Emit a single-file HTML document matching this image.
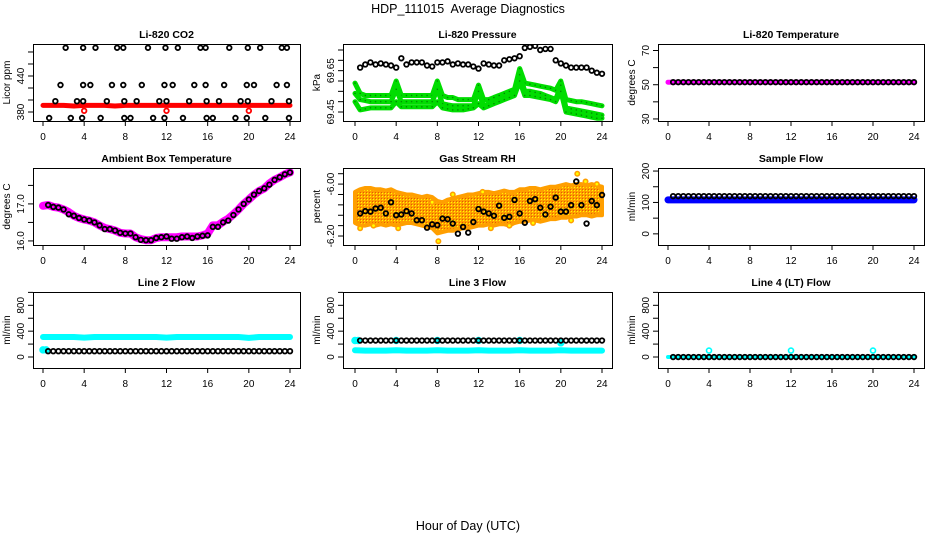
<!DOCTYPE html>
<html><head><meta charset="utf-8"><title>HDP_111015 Average Diagnostics</title>
<style>
html,body{margin:0;padding:0;background:#fff;}
svg{display:block;font-family:"Liberation Sans",Arial,sans-serif;}
</style></head>
<body>
<svg id="chart" width="936" height="540" viewBox="0 0 936 540" xmlns="http://www.w3.org/2000/svg">
<rect width="936" height="540" fill="#fff"/>
<defs>
<pattern id="rhpat" width="3" height="3" patternUnits="userSpaceOnUse"><rect width="3" height="3" fill="#ff9f00"/><rect x="1" y="1" width="1" height="1" fill="#ffff00"/><rect x="0" y="0" width="1" height="1" fill="#e06000"/></pattern>
</defs>
<text x="468" y="13" font-size="12.5" text-anchor="middle" style="white-space:pre">HDP_111015  Average Diagnostics</text>
<text x="468" y="530" font-size="12.5" text-anchor="middle">Hour of Day (UTC)</text>
</svg>
<script>
// ---------- data ----------
const xTicks = [0,4,8,12,16,20,24];
const hoursHalf = [0,0.5,1,1.5,2,2.5,3,3.5,4,4.5,5,5.5,6,6.5,7,7.5,8,8.5,9,9.5,10,10.5,11,11.5,12,12.5,13,13.5,14,14.5,15,15.5,16,16.5,17,17.5,18,18.5,19,19.5,20,20.5,21,21.5,22,22.5,23,23.5,24];
const hoursBlack = [0.5,1,1.5,2,2.5,3,3.5,4,4.5,5,5.5,6,6.5,7,7.5,8,8.5,9,9.5,10,10.5,11,11.5,12,12.5,13,13.5,14,14.5,15,15.5,16,16.5,17,17.5,18,18.5,19,19.5,20,20.5,21,21.5,22,22.5,23,23.5,24];
const hoursHourly = [0,1,2,3,4,5,6,7,8,9,10,11,12,13,14,15,16,17,18,19,20,21,22,23,24];

// CO2
const co2Red = [391,391,391,390,391,391,391,390,391,391,391,391,391,391,391,391,391,391,391,391,391,391,391,391,391];
const co2RedOutHours = [4,12,20];
const co2RedOutVals = [382,382,382];
const co2Hours = [2.2,3.9,5.1,7.2,7.8,10.2,11.9,13.1,15.3,15.8,18.1,19.9,21.1,23.2,23.7,
  1.7,3.9,4.6,6.7,7.8,9.6,11.8,12.6,14.7,15.8,17.6,19.8,20.5,22.7,23.7,
  1.2,3.3,3.9,6.2,7.9,9.1,11.3,12.0,14.2,15.9,17.1,19.2,19.9,22.2,23.9,
  0.6,2.7,3.8,5.6,7.9,8.5,10.7,11.8,13.6,15.9,16.5,18.7,19.8,21.6,23.9];
const co2Vals = [487,487,487,487,487,487,487,487,487,487,487,487,487,487,487,
  425,425,425,425,425,425,425,425,425,425,425,425,425,425,425,
  398,398,398,398,398,398,398,398,398,398,398,398,398,398,398,
  370,370,370,370,370,370,370,370,370,370,370,370,370,370,370];

// Pressure
const presBlack = [69.665,69.68,69.69,69.68,69.685,69.68,69.675,69.665,69.71,69.68,69.69,69.69,69.69,69.675,69.67,69.69,69.69,69.695,69.68,69.685,69.68,69.68,69.67,69.66,69.685,69.68,69.675,69.675,69.70,69.705,69.71,69.72,69.76,69.765,69.77,69.75,69.755,69.755,69.70,69.685,69.675,69.665,69.665,69.665,69.665,69.65,69.64,69.635];
const presGreen1 = [69.59,69.54,69.53,69.53,69.53,69.53,69.53,69.53,69.6,69.53,69.53,69.53,69.53,69.53,69.53,69.53,69.6,69.53,69.52,69.52,69.51,69.51,69.51,69.51,69.58,69.51,69.51,69.52,69.53,69.54,69.55,69.56,69.66,69.59,69.585,69.58,69.575,69.57,69.565,69.555,69.6,69.51,69.505,69.5,69.5,69.495,69.49,69.485,69.48];
const presGreen2 = [69.54,69.51,69.505,69.5,69.5,69.5,69.5,69.5,69.56,69.5,69.5,69.5,69.5,69.5,69.5,69.5,69.56,69.49,69.485,69.48,69.48,69.48,69.48,69.48,69.55,69.48,69.49,69.5,69.51,69.52,69.53,69.54,69.63,69.55,69.55,69.545,69.54,69.53,69.52,69.51,69.58,69.47,69.465,69.46,69.455,69.45,69.445,69.44,69.435];
const presGreen3 = [69.5,69.46,69.465,69.47,69.47,69.47,69.47,69.47,69.5,69.475,69.475,69.475,69.475,69.475,69.475,69.475,69.5,69.47,69.465,69.46,69.46,69.46,69.465,69.47,69.49,69.47,69.48,69.49,69.5,69.51,69.52,69.53,69.6,69.53,69.53,69.525,69.52,69.515,69.51,69.5,69.55,69.45,69.445,69.44,69.435,69.43,69.425,69.42,69.42];

// Li-820 temperature
const tempMag = [51.5,51.5,51.5,51.5,51.5,51.5,51.5,51.5,51.5,51.5,51.5,51.5,51.5,51.5,51.5,51.5,51.5,51.5,51.5,51.5,51.5,51.5,51.5,51.5,51.5];
const tempBlack = [51.5,51.5,51.5,51.5,51.5,51.5,51.5,51.5,51.5,51.5,51.5,51.5,51.5,51.5,51.5,51.5,51.5,51.5,51.5,51.5,51.5,51.5,51.5,51.5,51.5,51.5,51.5,51.5,51.5,51.5,51.5,51.5,51.5,51.5,51.5,51.5,51.5,51.5,51.5,51.5,51.5,51.5,51.5,51.5,51.5,51.5,51.5,51.5];

// Ambient box temperature
const ambTemp = [16.95,16.97,16.92,16.9,16.85,16.78,16.68,16.62,16.58,16.55,16.5,16.42,16.35,16.32,16.28,16.22,16.2,16.2,16.1,16.05,16.02,16.02,16.08,16.1,16.1,16.1,16.1,16.12,16.12,16.12,16.12,16.15,16.2,16.42,16.42,16.52,16.6,16.72,16.85,17.0,17.12,17.25,17.35,17.42,17.55,17.65,17.72,17.8,17.85];
const ambBlack = [16.97,16.92,16.9,16.85,16.72,16.68,16.62,16.58,16.55,16.5,16.42,16.32,16.32,16.28,16.22,16.2,16.2,16.1,16.03,16.02,16.02,16.08,16.1,16.12,16.06,16.06,16.1,16.12,16.08,16.12,16.14,16.15,16.38,16.38,16.5,16.55,16.7,16.85,17.0,17.12,17.25,17.35,17.42,17.52,17.65,17.72,17.8,17.85];

// Gas stream RH
const rhHigh = [-6.03,-6.02,-6.015,-6.015,-6.02,-6.02,-6.025,-6.02,-6.03,-6.035,-6.04,-6.04,-6.045,-6.05,-6.045,-6.05,-6.065,-6.07,-6.06,-6.055,-6.05,-6.045,-6.04,-6.04,-6.035,-6.03,-6.03,-6.035,-6.03,-6.025,-6.03,-6.03,-6.02,-6.02,-6.015,-6.015,-6.02,-6.015,-6.01,-6.01,-6.005,-6.0,-6.005,-6.0,-6.0,-6.005,-6.0,-6.005,-6.01];
const rhLow = [-6.15,-6.16,-6.16,-6.155,-6.16,-6.155,-6.16,-6.155,-6.16,-6.155,-6.15,-6.15,-6.155,-6.16,-6.165,-6.17,-6.19,-6.185,-6.18,-6.18,-6.175,-6.17,-6.17,-6.165,-6.16,-6.16,-6.155,-6.16,-6.155,-6.155,-6.16,-6.15,-6.145,-6.145,-6.14,-6.14,-6.145,-6.14,-6.135,-6.135,-6.13,-6.13,-6.125,-6.125,-6.12,-6.12,-6.125,-6.12,-6.12];
const rhOutHours = [0.5,1.8,4.2,7.5,8.1,9.5,12.4,13.2,15.0,17.3,21.0,21.6,22.4,23.5];
const rhOutVals = [-6.17,-6.16,-6.17,-6.07,-6.22,-6.04,-6.03,-6.17,-6.16,-6.15,-6.14,-5.96,-5.99,-6.0];
const rhBlack = [-6.113,-6.104,-6.106,-6.094,-6.091,-6.113,-6.070,-6.120,-6.117,-6.104,-6.113,-6.139,-6.139,-6.168,-6.155,-6.158,-6.133,-6.135,-6.152,-6.191,-6.165,-6.187,-6.146,-6.096,-6.106,-6.113,-6.122,-6.083,-6.130,-6.126,-6.061,-6.113,-6.149,-6.065,-6.058,-6.091,-6.117,-6.087,-6.052,-6.106,-6.106,-6.081,-5.990,-6.081,-6.152,-6.065,-6.081,-6.042];

// Sample flow
const flowBlue = [108,108,108,108,108,108,108,108,108,108,108,108,108,108,108,108,108,108,108,108,108,108,108,108,108];
const flowBlack = [120,120,120,120,120,120,120,120,120,120,120,120,120,120,120,120,120,120,120,120,120,120,120,120,120,120,120,120,120,120,120,120,120,120,120,120,120,120,120,120,120,120,120,120,120,120,120,120];

// Line 2 flow
const l2CyanHigh = [310,310,310,310,300,310,310,310,310,310,310,310,300,310,310,310,310,310,310,310,295,310,310,310,310];
const l2CyanLowHours = [0,0.3];
const l2CyanLowVals = [110,110];
const l2Black = [90,90,90,90,90,90,90,90,90,90,90,90,90,90,90,90,90,90,90,90,90,90,90,90,90,90,90,90,90,90,90,90,90,90,90,90,90,90,90,90,90,90,90,90,90,90,90,90];

// Line 3 flow
const l3Cyan = [105,100,100,100,105,100,100,100,105,100,100,100,105,100,100,100,105,100,100,100,105,100,100,100,100];
const l3CyanHighHours = [0,0.3,4,8,12,16,20];
const l3CyanHighVals = [255,255,255,255,255,255,220];
const l3Black = [255,255,255,255,255,255,255,255,255,255,255,255,255,255,255,255,255,255,255,255,255,255,255,255,255,255,255,255,255,255,255,255,255,255,255,255,255,255,255,255,255,255,255,255,255,255,255,255];

// Line 4 flow
const l4Cyan = [0,0,0,0,0,0,0,0,0,0,0,0,0,0,0,0,0,0,0,0,0,0,0,0,0];
const l4SpikeHours = [4,12,20];
const l4SpikeVals = [100,100,100];
const l4Black = [0,0,0,0,0,0,0,0,0,0,0,0,0,0,0,0,0,0,0,0,0,0,0,0,0,0,0,0,0,0,0,0,0,0,0,0,0,0,0,0,0,0,0,0,0,0,0,0];

// ---------- drawing ----------
const NS = 'http://www.w3.org/2000/svg';
const svg = document.getElementById('chart');
function mk(tag, attrs, parent){
  const e = document.createElementNS(NS, tag);
  for (const k in attrs) e.setAttribute(k, attrs[k]);
  (parent||svg).appendChild(e);
  return e;
}
const colBox = [[33,300,43,290],[343,612,355,602],[658,924,668,914]];
const rowBox = [[44,121],[168,245],[292,368]];

function panel(name, title, ylab, col, row, yMin, yMax, yTicks, yLabels){
  const [bx0,bx1,hx0,hx1] = colBox[col];
  const [by0,by1] = rowBox[row];
  const g = mk('g', {});
  
  
  const sx = h => hx0 + (h/24)*(hx1-hx0);
  const sy = v => by1 - (v-yMin)/(yMax-yMin)*(by1-by0);
  const t = mk('text', {x:(bx0+bx1)/2, y:by0-6, 'font-size':10.5, 'font-weight':'bold', 'text-anchor':'middle'}, g);
  t.textContent = title;
  
  
  const yl = mk('text', {x:0, y:0, 'font-size':10, 'text-anchor':'middle', transform:`translate(${bx0-23},${(by0+by1)/2}) rotate(-90)`}, g);
  yl.textContent = ylab;
  
  
  const xa = mk('g', {}, g);
  
  
  mk('line', {x1:sx(xTicks[0]), x2:sx(xTicks[xTicks.length-1]), y1:by1+0.5, y2:by1+0.5, stroke:'#000'}, xa);
  xTicks.forEach(h => {
    mk('line', {x1:sx(h), x2:sx(h), y1:by1, y2:by1+5, stroke:'#000'}, xa);
    const lt = mk('text', {x:sx(h), y:by1+19, 'font-size':10, 'text-anchor':'middle'}, xa);
    lt.textContent = h;
  });
  const ya = mk('g', {}, g);
  
  
  mk('line', {x1:bx0+0.5, x2:bx0+0.5, y1:sy(yTicks[0]), y2:sy(yTicks[yTicks.length-1]), stroke:'#000'}, ya);
  yTicks.forEach(v => {
    mk('line', {x1:bx0-5, x2:bx0, y1:sy(v), y2:sy(v), stroke:'#000'}, ya);
  });
  yLabels.forEach(s => {
    const v = parseFloat(s);
    const lt = mk('text', {x:0, y:0, 'font-size':10, 'text-anchor':'middle', transform:`translate(${bx0-9},${sy(v)}) rotate(-90)`}, ya);
    lt.textContent = s;
  });
  const clip = 'clip-' + name;
  const cp = mk('clipPath', {id:clip}, g);
  mk('rect', {x:bx0, y:by0, width:bx1-bx0, height:by1-by0}, cp);
  const plot = mk('g', {'clip-path':`url(#${clip})`}, g);
  
  
  mk('rect', {x:bx0+0.5, y:by0+0.5, width:bx1-bx0, height:by1-by0, fill:'none', stroke:'#000'}, g);
  return {sx, sy, plot};
}
function band(p, name, hrs, vals, color, w){
  const pts = hrs.map((h,i)=> p.sx(h).toFixed(1)+','+p.sy(vals[i]).toFixed(1)).join(' ');
  const pl = mk('polyline', {points:pts, fill:'none', stroke:color, 'stroke-width':w, 'stroke-linecap':'round', 'stroke-linejoin':'round'}, p.plot);
  
  
}
function dots(p, name, hrs, vals, color, r, sw, fill){
  const g = mk('g', {}, p.plot);
  
  
  hrs.forEach((h,i)=>{
    mk('circle', {cx:p.sx(h), cy:p.sy(vals[i]), r:r, fill:fill||'none', stroke:color, 'stroke-width':sw}, g);
  });
}

// CO2
let p = panel('co2', 'Li-820 CO2', 'Licor ppm', 0, 0, 365, 493.3, [380,400,420,440,460,480], ['380','440']);
band(p, 'co2-red-series', hoursHourly, co2Red, '#ff0000', 5);
dots(p, 'co2-red-outliers', co2RedOutHours, co2RedOutVals, '#ff0000', 2.3, 1.8);
dots(p, 'co2-black-series', co2Hours, co2Vals, '#000', 2.3, 1.8);

// Pressure
p = panel('pressure', 'Li-820 Pressure', 'kPa', 1, 0, 69.4065, 69.779, [69.45,69.5,69.55,69.6,69.65,69.7,69.75], ['69.45','69.65']);
[presGreen1, presGreen2, presGreen3].forEach((arr,k)=>{
  band(p, 'pressure-green-band-'+(k+1), hoursHalf, arr, '#00dd00', 5);
  dots(p, 'pressure-green-points-'+(k+1), hoursHalf, arr, '#00aa00', 0.6, 0.6, '#003300');
});
dots(p, 'pressure-black-series', hoursBlack, presBlack, '#000', 2.3, 1.8);

// Li-820 temperature
p = panel('li820-temp', 'Li-820 Temperature', 'degrees C', 2, 0, 28.8, 73.8, [30,40,50,60,70], ['30','50','70']);
band(p, 'li820-temp-magenta-series', hoursHourly, tempMag, '#ff00ff', 5);
dots(p, 'li820-temp-black-series', hoursBlack, tempBlack, '#000', 2.3, 1.8);

// Ambient
p = panel('ambient', 'Ambient Box Temperature', 'degrees C', 0, 1, 15.89, 17.97, [16,16.5,17,17.5], ['16.0','17.0']);
band(p, 'ambient-magenta-series', hoursHalf, ambTemp, '#ff00ff', 8);
dots(p, 'ambient-black-series', hoursBlack, ambBlack, '#000', 2.3, 1.8);

// RH
p = panel('rh', 'Gas Stream RH', 'percent', 1, 1, -6.2346, -5.938, [-5.96,-6.0,-6.04,-6.08,-6.12,-6.16,-6.2], ['-6.00','-6.20']);
{
  const top = hoursHalf.map((h,i)=> p.sx(h).toFixed(1)+','+p.sy(rhHigh[i]).toFixed(1));
  const bot = hoursHalf.map((h,i)=> p.sx(h).toFixed(1)+','+p.sy(rhLow[i]).toFixed(1)).reverse();
  const poly = mk('polygon', {points: top.concat(bot).join(' '), fill:'url(#rhpat)', stroke:'#ff9f00', 'stroke-width':4, 'stroke-linejoin':'round'}, p.plot);
  
  
}
dots(p, 'rh-orange-outliers', rhOutHours, rhOutVals, '#ff9f00', 2.2, 1.6, '#ffff00');
dots(p, 'rh-black-series', hoursBlack, rhBlack, '#000', 2.3, 1.8);

// Sample flow
p = panel('sample-flow', 'Sample Flow', 'ml/min', 2, 1, -35.5, 209.7, [0,50,100,150,200], ['0','100','200']);
band(p, 'sample-flow-blue-series', hoursHourly, flowBlue, '#0000ff', 7);
dots(p, 'sample-flow-black-series', hoursBlack, flowBlack, '#000', 2.3, 1.8);

// Line 2
p = panel('line2-flow', 'Line 2 Flow', 'ml/min', 0, 2, -170, 1006, [0,200,400,600,800,1000], ['0','400','800']);
band(p, 'line2-cyan-high-series', hoursHourly, l2CyanHigh, '#00ffff', 6);
dots(p, 'line2-cyan-low-points', l2CyanLowHours, l2CyanLowVals, '#00ffff', 2.5, 2.5, '#00ffff');
dots(p, 'line2-black-series', hoursBlack, l2Black, '#000', 2.3, 1.8);

// Line 3
p = panel('line3-flow', 'Line 3 Flow', 'ml/min', 1, 2, -170, 1006, [0,200,400,600,800,1000], ['0','400','800']);
band(p, 'line3-cyan-series', hoursHourly, l3Cyan, '#00ffff', 6);
dots(p, 'line3-cyan-high-points', l3CyanHighHours, l3CyanHighVals, '#00ffff', 2.5, 2.5, '#00ffff');
dots(p, 'line3-black-series', hoursBlack, l3Black, '#000', 2.3, 1.8);

// Line 4
p = panel('line4-flow', 'Line 4 (LT) Flow', 'ml/min', 2, 2, -170, 1006, [0,200,400,600,800,1000], ['0','400','800']);
band(p, 'line4-cyan-series', hoursHourly, l4Cyan, '#00ffff', 4);
dots(p, 'line4-cyan-spikes', l4SpikeHours, l4SpikeVals, '#00ffff', 2.5, 1.6);
dots(p, 'line4-black-series', hoursBlack, l4Black, '#000', 2.3, 1.8);
</script>
</body></html>
